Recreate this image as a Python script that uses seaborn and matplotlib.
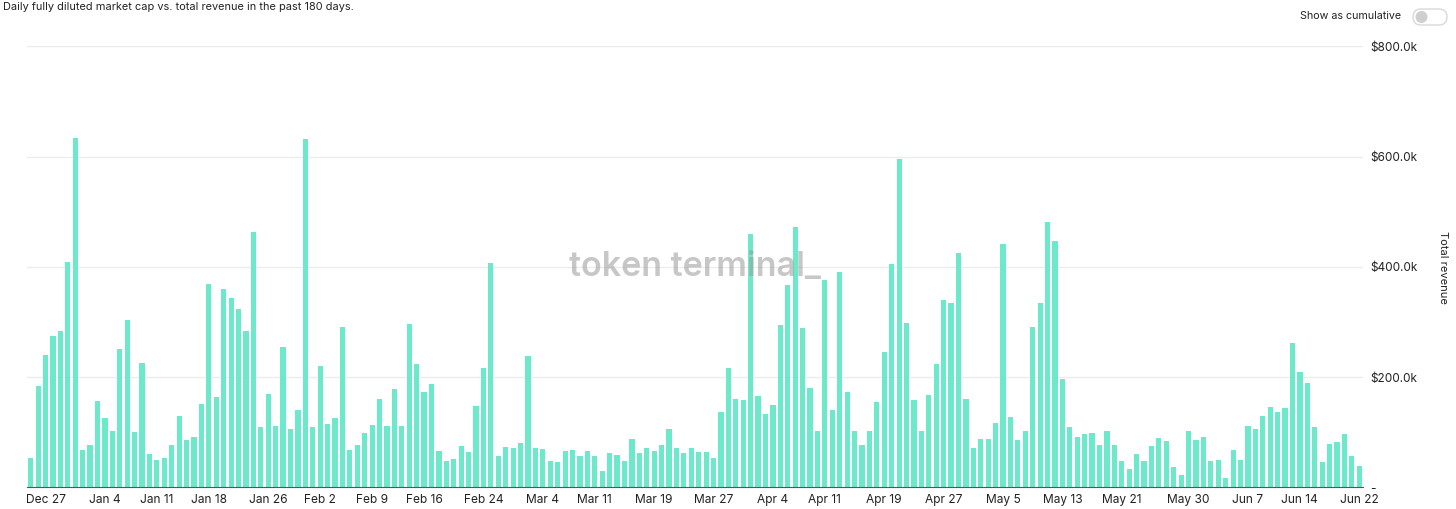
import pandas as pd
import matplotlib.pyplot as plt
import seaborn as sns
from matplotlib.patches import FancyBboxPatch, Circle

# daily total revenue, thousands of USD (Dec 25 2022 .. Jun 22 2023)
start_date = "2022-12-25"
revenue_k = [
    53, 184, 240, 275, 283, 408, 633, 68, 76, 156, 126, 103, 251, 303, 100, 225,
    61, 49, 54, 77, 130, 86, 92, 151, 369, 163, 359, 343, 324, 283, 464, 109,
    169, 112, 255, 105, 141, 632, 109, 220, 114, 126, 291, 68, 77, 98, 113, 160,
    112, 179, 111, 297, 224, 173, 187, 65, 47, 51, 75, 64, 147, 217, 407,
    57, 73, 71, 80, 238, 72, 69, 48, 46, 65, 67, 57, 66, 56, 30, 63,
    59, 48, 88, 63, 72, 65, 77, 106, 71, 62, 71, 64, 64, 54, 136,
    216, 160, 159, 460, 165, 133, 150, 295, 367, 473, 289, 181, 103, 376, 140, 390,
    172, 102, 76, 103, 155, 245, 405, 596, 298, 158, 103, 167, 224, 340, 335,
    425, 161, 71, 87, 87, 117, 442, 128, 85, 103, 291, 334, 482, 447, 196,
    109, 92, 97, 98, 77, 103, 77, 47, 34, 60, 47, 75, 89, 84, 36,
    22, 103, 86, 91, 48, 50, 16, 68, 50, 112, 106, 130, 146, 137, 143, 262,
    210, 190, 110, 46, 79, 82, 97, 57, 39,
]
tick_dates = ["2022-12-27", "2023-01-04", "2023-01-11", "2023-01-18", "2023-01-26",
              "2023-02-02", "2023-02-09", "2023-02-16", "2023-02-24", "2023-03-04",
              "2023-03-11", "2023-03-19", "2023-03-27", "2023-04-04", "2023-04-11",
              "2023-04-19", "2023-04-27", "2023-05-05", "2023-05-13", "2023-05-21",
              "2023-05-30", "2023-06-07", "2023-06-14", "2023-06-22"]
y_ticks_k = [0, 200, 400, 600, 800]

BAR = "#6BE9CA"
TXT = "#222222"

sns.set_style("white")
plt.rcParams["font.family"] = ["Inter", "DejaVu Sans"]

dates = pd.date_range(start_date, periods=len(revenue_k), freq="D")
df = pd.DataFrame({"date": dates.strftime("%Y-%m-%d"), "revenue": revenue_k})

fig = plt.figure(figsize=(14.56, 5.09), dpi=100)
ax = fig.add_axes([27 / 1456, 1 - 487.3 / 509, 1336 / 1456, 441 / 509])

sns.barplot(data=df, x="date", y="revenue", color=BAR, saturation=1,
            width=0.7, linewidth=0, ax=ax, zorder=2)

# x ticks on selected days
pos = [df.index[df["date"] == d][0] for d in tick_dates]
labels = [pd.Timestamp(d).strftime("%b ") + str(pd.Timestamp(d).day) for d in tick_dates]
ax.set_xticks(pos)
ax.set_xticklabels(labels, fontsize=8.6, color=TXT)
ax.tick_params(axis="x", length=0, pad=5)
ax.set_xlim(-0.5, len(revenue_k) - 0.5)

# y axis on the right
ax.set_ylim(0, 800)
ax.set_yticks(y_ticks_k)
ax.set_yticklabels(["-" if v == 0 else f"${v:.1f}k" for v in y_ticks_k],
                   fontsize=8.5, color=TXT)
ax.yaxis.tick_right()
ax.tick_params(axis="y", length=0, pad=5)
ax.grid(axis="y", color="#ececec", linewidth=1, zorder=0)
ax.set_axisbelow(True)
ax.set_xlabel("")
ax.set_ylabel("")
for s in ["top", "left", "right"]:
    ax.spines[s].set_visible(False)
ax.spines["bottom"].set_color("#555555")
ax.spines["bottom"].set_linewidth(0.8)

fig.text(1443 / 1456, 1 - 267 / 509, "Total revenue", rotation=270,
         ha="center", va="center", fontsize=8, color=TXT)

# watermark
ax.text(0.5, 0.5, "token terminal_", transform=ax.transAxes, ha="center",
        va="center", fontsize=24.5, fontweight="semibold", color="#9a9a9a",
        alpha=0.55, zorder=5)

# header
fig.text(3 / 1456, 1 - 7 / 509, "Daily fully diluted market cap vs. total revenue in the past 180 days.",
         ha="left", va="center", fontsize=7.9, color=TXT)
fig.text(1300 / 1456, 1 - 16 / 509, "Show as cumulative", ha="left", va="center",
         fontsize=7.7, color=TXT)

# toggle switch
tax = fig.add_axes([1410 / 1456, 1 - 27 / 509, 40 / 1456, 20 / 509])
tax.set_xlim(0, 40)
tax.set_ylim(0, 20)
tax.axis("off")
tax.add_patch(FancyBboxPatch((3, 2), 34, 16, boxstyle="round,pad=0,rounding_size=8",
                             facecolor="white", edgecolor="#d9d9d9", linewidth=1))
tax.add_patch(Circle((11.5, 10), 6, facecolor="#cfcfcf", edgecolor="none"))

fig.savefig("out.png", dpi=100)
